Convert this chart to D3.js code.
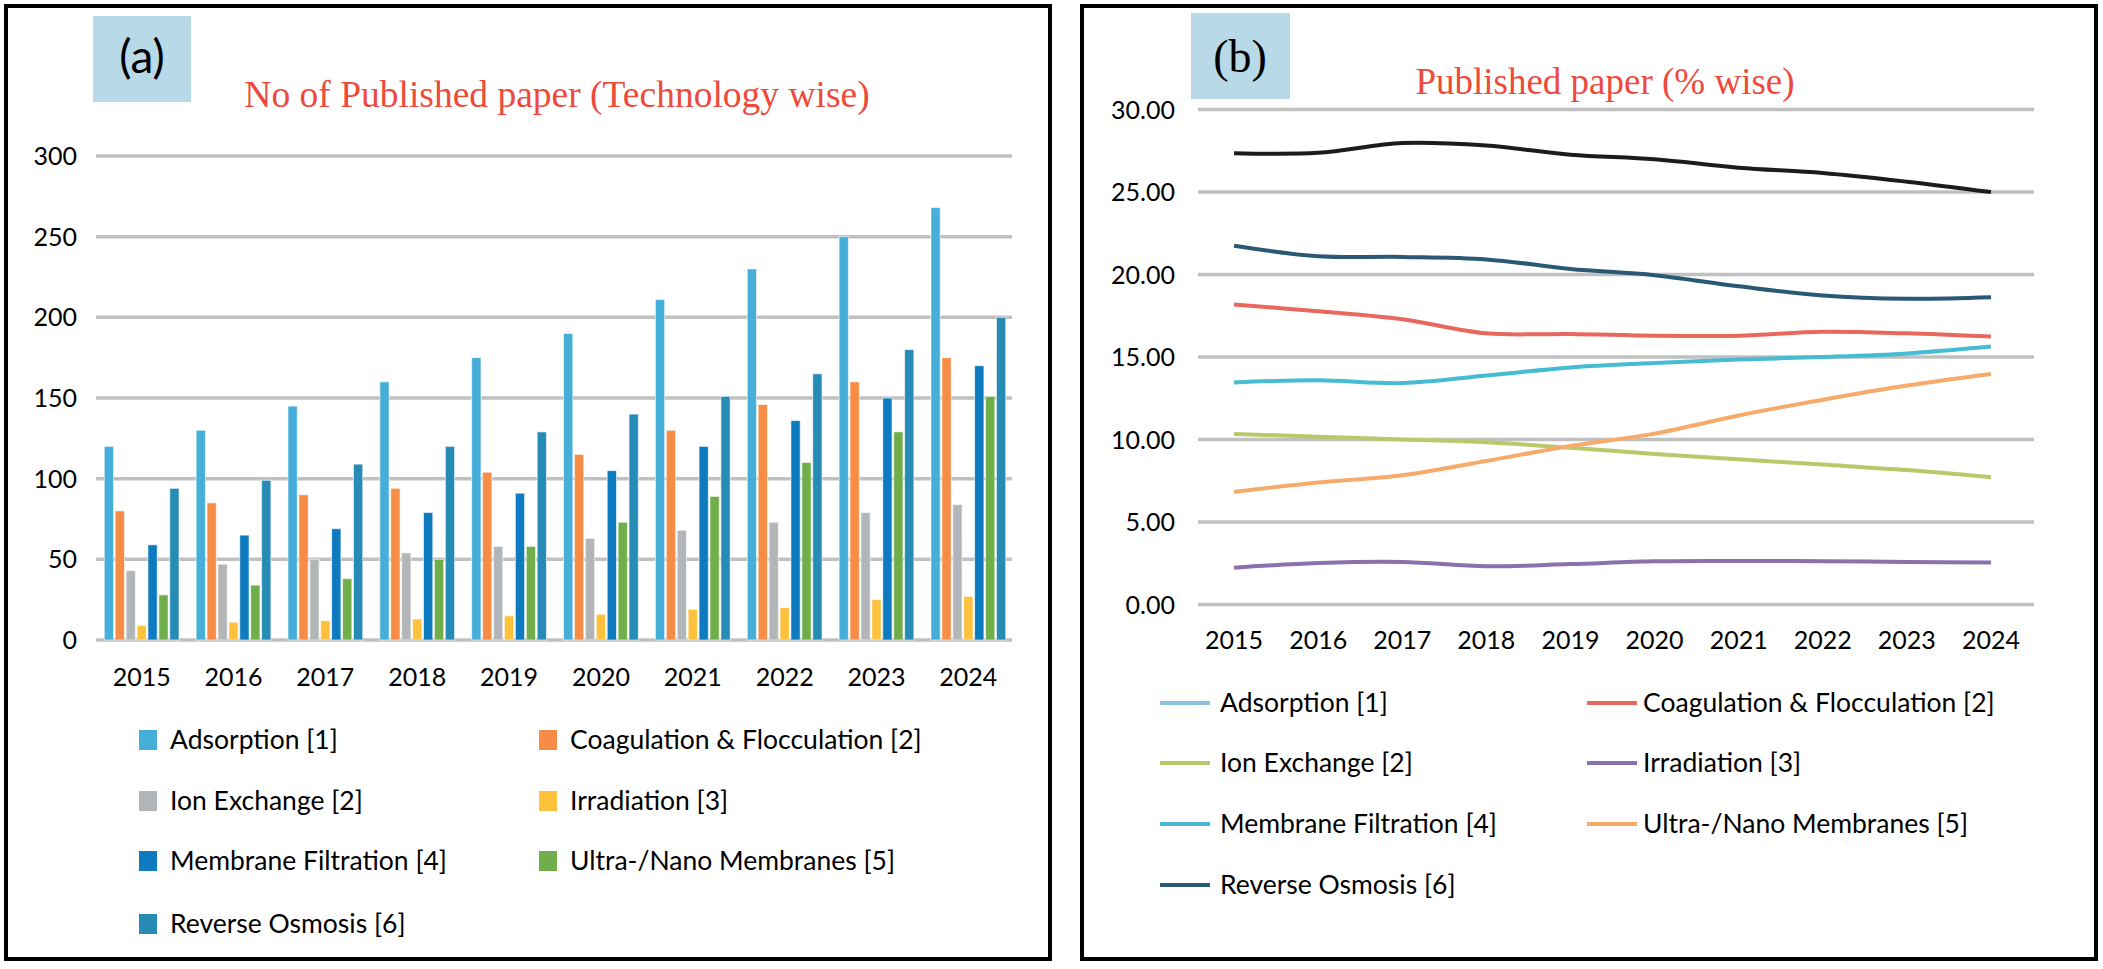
<!DOCTYPE html>
<html>
<head>
<meta charset="utf-8">
<script src="https://cdn.jsdelivr.net/npm/d3@7"></script>
<style>
  body { margin: 0; background: #fff; }
  svg { display: block; }
  .sans { font-family: Lato, "Open Sans", sans-serif; }
  .serif { font-family: "Liberation Serif", "DejaVu Serif", serif; }
</style>
</head>
<body>
<div id="chart"></div>
<script>
// categories
const years = ["2015", "2016", "2017", "2018", "2019", "2020", "2021", "2022", "2023", "2024"];
const techNames = ["Adsorption [1]", "Coagulation & Flocculation [2]", "Ion Exchange [2]", "Irradiation [3]",
  "Membrane Filtration [4]", "Ultra-/Nano Membranes [5]", "Reverse Osmosis [6]"];

// (a) number of published papers
const adsorption = [120, 130, 145, 160, 175, 190, 211, 230, 250, 268];
const coagulation = [80, 85, 90, 94, 104, 115, 130, 146, 160, 175];
const ionExchange = [43, 47, 50, 54, 58, 63, 68, 73, 79, 84];
const irradiation = [9, 11, 12, 13, 15, 16, 19, 20, 25, 27];
const membrane = [59, 65, 69, 79, 91, 105, 120, 136, 150, 170];
const ultraNano = [28, 34, 38, 50, 58, 73, 89, 110, 129, 151];
const reverseOsmosis = [94, 99, 109, 120, 129, 140, 151, 165, 180, 200];

// (b) share of published papers, %
const pctAdsorption = [27.36, 27.38, 27.97, 27.82, 27.27, 26.99, 26.48, 26.16, 25.63, 25.0];
const pctCoagulation = [18.18, 17.78, 17.29, 16.44, 16.4, 16.29, 16.29, 16.53, 16.44, 16.24];
const pctIonExchange = [10.34, 10.17, 10.0, 9.83, 9.5, 9.13, 8.8, 8.48, 8.15, 7.72];
const pctIrradiation = [2.23, 2.51, 2.58, 2.32, 2.45, 2.62, 2.64, 2.62, 2.58, 2.55];
const pctMembrane = [13.46, 13.59, 13.42, 13.88, 14.37, 14.64, 14.85, 15.0, 15.22, 15.64];
const pctUltraNano = [6.83, 7.39, 7.83, 8.7, 9.61, 10.36, 11.46, 12.41, 13.27, 13.97];
const pctReverseOsmosis = [21.75, 21.11, 21.07, 20.92, 20.34, 19.96, 19.29, 18.73, 18.53, 18.62];

// tick labels
const countTicks = [0, 50, 100, 150, 200, 250, 300];
const pctTicks = [0, 5, 10, 15, 20, 25, 30];

const barValues = [adsorption, coagulation, ionExchange, irradiation, membrane, ultraNano, reverseOsmosis];
const pctValues = [pctAdsorption, pctCoagulation, pctIonExchange, pctIrradiation, pctMembrane, pctUltraNano, pctReverseOsmosis];

const barColors = ["#45aed9", "#f68c45", "#b3b6b8", "#fdc13c", "#0e7abf", "#6fae4a", "#278cb5"];
const lineColors = ["#1c1c1c", "#e8685d", "#b8c96a", "#8a70ad", "#45bcd3", "#f7ab6a", "#2a5a73"];
const lineLegendColors = ["#8dbfdf", "#e8685d", "#b8c96a", "#8a70ad", "#45bcd3", "#f7ab6a", "#2a5a73"];

const W = 2103, H = 969;
const svg = d3.select('#chart').append('svg').attr('width', W).attr('height', H);

// panel frames
svg.append('rect').attr('x', 6).attr('y', 6).attr('width', 1044).attr('height', 953)
  .style('fill', 'none').style('stroke', '#000').style('stroke-width', 4);
svg.append('rect').attr('x', 1082).attr('y', 6).attr('width', 1014).attr('height', 953)
  .style('fill', 'none').style('stroke', '#000').style('stroke-width', 4);

// ---------- (a) bar chart ----------
const a = svg.append('g');
a.append('rect').attr('x', 93).attr('y', 16).attr('width', 98).attr('height', 86).style('fill', '#b8d9e7');
a.append('text').attr('class', 'sans').attr('x', 142).attr('y', 73).attr('text-anchor', 'middle')
  .attr('font-size', 46).style('fill', '#000').text('(a)');
a.append('text').attr('class', 'serif').attr('x', 557).attr('y', 107).attr('text-anchor', 'middle')
  .attr('font-size', 37.5).style('fill', '#ee4a3c').text('No of Published paper (Technology wise)');

const yA = d3.scaleLinear().domain([0, 300]).range([640, 156]);
const x0A = d3.scaleBand().domain(years).range([96, 1014]).paddingInner(0.186).paddingOuter(0.09);
const x1A = d3.scaleBand().domain(d3.range(techNames.length)).range([0, x0A.bandwidth()]).paddingInner(0.15);

a.selectAll('.gridA').data(countTicks).enter().append('line')
  .attr('x1', 96).attr('x2', 1012)
  .attr('y1', d => yA(d)).attr('y2', d => yA(d))
  .style('stroke', '#c0c0c0').style('stroke-width', 3.5);

a.selectAll('.ytA').data(countTicks).enter().append('text')
  .attr('class', 'sans').attr('x', 77).attr('y', d => yA(d) + 9)
  .attr('text-anchor', 'end').attr('font-size', 25).style('fill', '#000')
  .text(d => d);

a.selectAll('.xtA').data(years).enter().append('text')
  .attr('class', 'sans').attr('x', d => x0A(d) + x0A.bandwidth() / 2).attr('y', 686)
  .attr('text-anchor', 'middle').attr('font-size', 25).style('fill', '#000')
  .text(d => d);

const groups = a.selectAll('.grp').data(years).enter().append('g')
  .attr('transform', d => `translate(${x0A(d)},0)`);
groups.selectAll('rect')
  .data((yr, i) => barValues.map((vals, s) => ({ s, v: vals[i] })))
  .enter().append('rect')
  .attr('x', d => x1A(d.s))
  .attr('width', x1A.bandwidth())
  .attr('y', d => yA(d.v))
  .attr('height', d => yA(0) - yA(d.v))
  .style('fill', d => barColors[d.s])
  .style('stroke', 'rgba(255,255,255,0.6)')
  .style('stroke-width', 1);

const legA = a.selectAll('.legA').data(techNames).enter().append('g')
  .attr('transform', (d, i) => `translate(${i % 2 ? 539 : 139},${[740, 801, 861, 924][Math.floor(i / 2)]})`);
legA.append('rect').attr('x', 0).attr('y', -10).attr('width', 18).attr('height', 20)
  .style('fill', (d, i) => barColors[i]);
legA.append('text').attr('class', 'sans').attr('x', 31).attr('y', 9)
  .attr('font-size', 26.5).style('fill', '#000').text(d => d);

// ---------- (b) line chart ----------
const b = svg.append('g');
b.append('rect').attr('x', 1191).attr('y', 13).attr('width', 99).attr('height', 86).style('fill', '#b8d9e7');
b.append('text').attr('class', 'serif').attr('x', 1240).attr('y', 72).attr('text-anchor', 'middle')
  .attr('font-size', 46).style('fill', '#000').text('(b)');
b.append('text').attr('class', 'serif').attr('x', 1605).attr('y', 94).attr('text-anchor', 'middle')
  .attr('font-size', 37).style('fill', '#ee4a3c').text('Published paper (% wise)');

const yB = d3.scaleLinear().domain([0, 30]).range([604.5, 109.6]);
const xB = d3.scalePoint().domain(years).range([1192, 2033]).padding(0.5);

b.selectAll('.gridB').data(pctTicks).enter().append('line')
  .attr('x1', 1198).attr('x2', 2034)
  .attr('y1', d => yB(d)).attr('y2', d => yB(d))
  .style('stroke', '#c0c0c0').style('stroke-width', 3.5);

b.selectAll('.ytB').data(pctTicks).enter().append('text')
  .attr('class', 'sans').attr('x', 1175).attr('y', d => yB(d) + 9)
  .attr('text-anchor', 'end').attr('font-size', 25).style('fill', '#000')
  .text(d => d3.format('.2f')(d));

b.selectAll('.xtB').data(years).enter().append('text')
  .attr('class', 'sans').attr('x', d => xB(d)).attr('y', 649)
  .attr('text-anchor', 'middle').attr('font-size', 25).style('fill', '#000')
  .text(d => d);

const line = d3.line()
  .x((d, i) => xB(years[i]))
  .y(d => yB(d))
  .curve(d3.curveCatmullRom.alpha(0.5));

b.selectAll('.series').data(pctValues).enter().append('path')
  .attr('d', d => line(d))
  .style('fill', 'none')
  .style('stroke', (d, i) => lineColors[i])
  .style('stroke-width', 4)
  .style('stroke-linejoin', 'round');

const legB = b.selectAll('.legB').data(techNames).enter().append('g')
  .attr('transform', (d, i) => `translate(${i % 2 ? 1587 : 1160},${[703, 763, 824, 885][Math.floor(i / 2)]})`);
legB.append('line').attr('x1', 0).attr('x2', 50).attr('y1', 0).attr('y2', 0)
  .style('stroke', (d, i) => lineLegendColors[i]).style('stroke-width', 4);
legB.append('text').attr('class', 'sans').attr('x', (d, i) => i % 2 ? 56 : 60).attr('y', 9)
  .attr('font-size', 26.5).style('fill', '#000').text(d => d);
</script>
</body>
</html>
